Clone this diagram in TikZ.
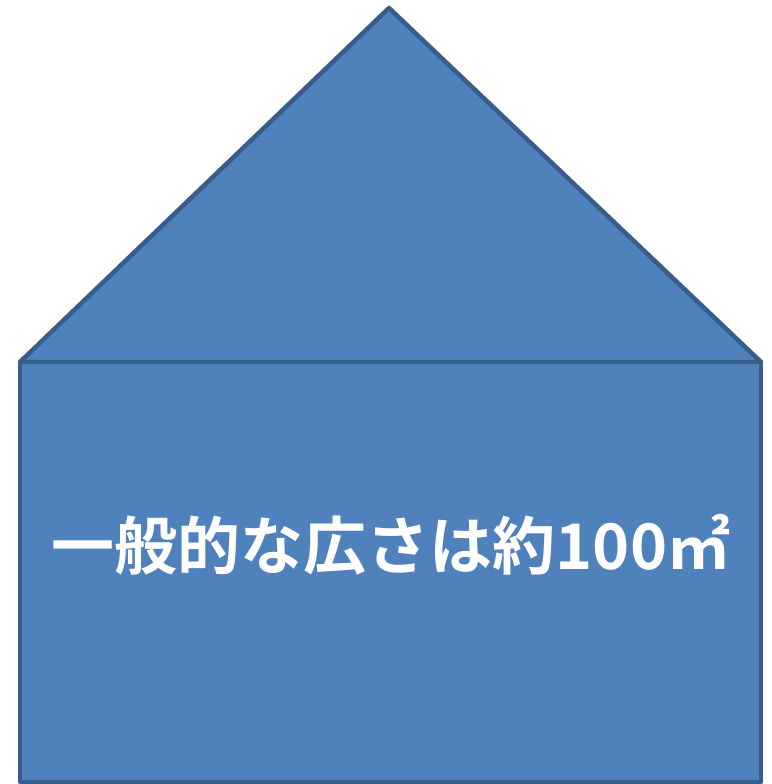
\documentclass[tikz,border=0pt]{standalone}
\usepackage{fontspec}
\newfontfamily\cjk{Noto Sans CJK JP Bold}
\definecolor{housefill}{HTML}{4F81BD}
\definecolor{houseline}{HTML}{385D8A}
\begin{document}
\begin{tikzpicture}[x=1pt,y=-1pt,
  shape style/.style={fill=housefill,draw=houseline,line width=4.5pt,line join=round}]
\useasboundingbox (0,0) rectangle (771,784);
\coordinate (apex) at (389,8);
\coordinate (tl) at (20,362);
\coordinate (tr) at (761,362);
\coordinate (br) at (761,782);
\coordinate (bl) at (20,782);
\path[shape style] (tl) -- (apex) -- (tr) -- cycle;
\path[shape style] (tl) -- (tr) -- (br) -- (bl) -- cycle;
\node[text=white,inner sep=0pt] (label) at (391,545)
  {\fontsize{63}{63}\cjk 一般的な広さは約100㎡};
\end{tikzpicture}
\end{document}
